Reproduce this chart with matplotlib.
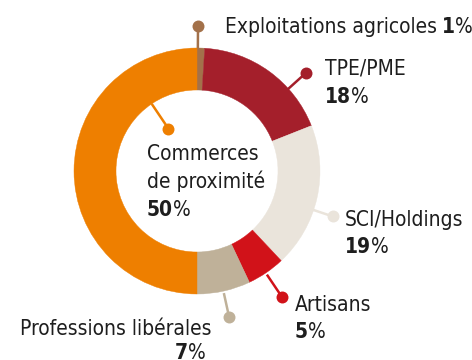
import numpy as np
import matplotlib.pyplot as plt

plt.rcParams['font.family'] = ['DejaVu Sans']
plt.rcParams['font.stretch'] = 'condensed'

# parts of the portfolio, clockwise from 12 o'clock
categories = ['Exploitations agricoles', 'TPE/PME', 'SCI/Holdings',
              'Artisans', 'Professions libérales', 'Commerces de proximité']
shares = [1, 18, 19, 5, 7, 50]
colors = ['#A3714A', '#A41F2B', '#EAE4DB', '#D11219', '#BFB199', '#EE7F00']

W, H = 472, 360
cx, cy = 197, H - 171
R, RING = 123, 42
TXT = '#1E1E1E'
FS = 15

fig = plt.figure(figsize=(W / 100, H / 100), dpi=100)
ax = fig.add_axes([0, 0, 1, 1])
wedges, _ = ax.pie(shares, colors=colors, startangle=90, counterclock=False,
                   radius=R, center=(cx, cy),
                   wedgeprops=dict(width=RING, linewidth=0.3))
for w, c in zip(wedges, colors):
    w.set_edgecolor(c)
ax.set_xlim(0, W)
ax.set_ylim(0, H)
ax.set_aspect('equal')
ax.axis('off')


def pt(angle, r):
    a = np.radians(angle)
    return cx + r * np.sin(a), cy + r * np.cos(a)


def leader(angle, r0, r1, color):
    x0, y0 = pt(angle, r0)
    x1, y1 = pt(angle, r1)
    ax.plot([x0, x1], [y0, y1], color=color, lw=1.8, solid_capstyle='butt')
    ax.plot(x1, y1, 'o', color=color, ms=8.6, mec='none')


def line_left(x, y, parts):
    # parts are (text, weight), written left to right
    prev = None
    for s, w in parts:
        if prev is None:
            prev = ax.text(x, H - y, s, fontsize=FS, weight=w, color=TXT,
                           ha='left', va='baseline')
        else:
            gap = 3.2 if s != '%' else 0.1
            prev = ax.annotate(s, xy=(1, 0), xycoords=prev,
                               xytext=(gap, 0), textcoords='offset points',
                               fontsize=FS, weight=w, color=TXT,
                               ha='left', va='bottom')
    return prev


def line_right(x, y, parts):
    prev = None
    for s, w in reversed(parts):
        if prev is None:
            prev = ax.text(x, H - y, s, fontsize=FS, weight=w, color=TXT,
                           ha='right', va='baseline')
        else:
            prev = ax.annotate(s, xy=(0, 0), xycoords=prev,
                               xytext=(-0.1, 0), textcoords='offset points',
                               fontsize=FS, weight=w, color=TXT,
                               ha='right', va='bottom')
    return prev


def pct(v):
    return [(str(v), 'bold'), ('%', 'normal')]


# leader lines: angle clockwise from top, start radius, dot radius
leader(0.4, R, 145, colors[0])
leader(48, R - 1, 147, colors[1])
leader(108.5, R - 2, 143, colors[2])
leader(146, R + 2, 152, colors[3])
leader(167.6, R + 2, 149, colors[4])
leader(326, R - RING, 51, colors[5])

line_left(225, 33, [(categories[0], 'normal')] + pct(shares[0]))
line_left(325, 75, [(categories[1], 'normal')])
line_left(325, 103, pct(shares[1]))
line_left(345, 226, [(categories[2], 'normal')])
line_left(345, 253, pct(shares[2]))
line_left(295, 311, [(categories[3], 'normal')])
line_left(295, 338, pct(shares[3]))
line_right(212, 335, [(categories[4], 'normal')])
line_right(206, 359, pct(shares[4]))
line_left(147, 160, [('Commerces', 'normal')])
line_left(147, 188, [('de proximité', 'normal')])
line_left(147, 216, pct(shares[5]))

fig.savefig('out.png', dpi=100)
